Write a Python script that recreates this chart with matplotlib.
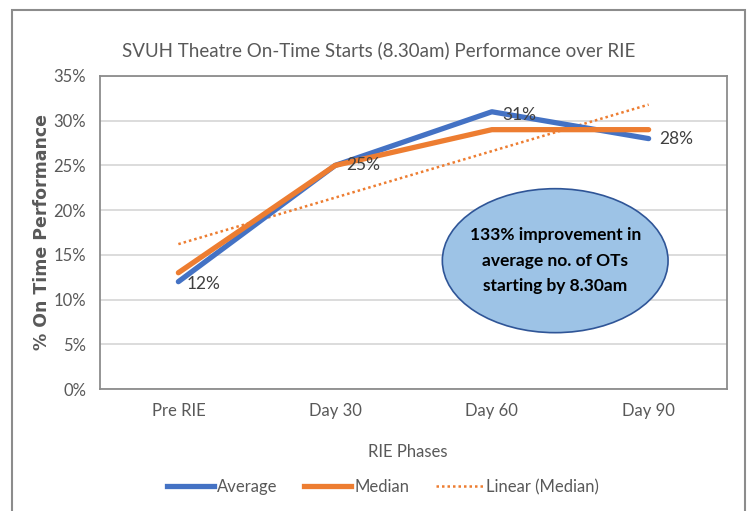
import matplotlib
matplotlib.use("Agg")
import matplotlib.pyplot as plt
import numpy as np
from matplotlib.patches import Ellipse, Rectangle
from matplotlib.lines import Line2D

categories = ["Pre RIE", "Day 30", "Day 60", "Day 90"]
average = [12, 25, 31, 28]
median = [13, 25, 29, 29]
avg_labels = ["12%", "25%", "31%", "28%"]
yticks = [0, 5, 10, 15, 20, 25, 30, 35]

NARROW = ["Lato", "DejaVu Sans"]
GRAY = "#595959"
BLUE = "#4472C4"
ORANGE = "#ED7D31"

fig = plt.figure(figsize=(7.49, 5.11), dpi=100)
fig.patches.append(Rectangle((12/749, -0.02), (745-12)/749, 1-10/511+0.02,
                             transform=fig.transFigure, fill=False,
                             edgecolor="#8c8c8c", linewidth=1.5, zorder=0))

ax = fig.add_axes([100/749, 1-389/511, 627/749, 313/511])
x = np.arange(len(categories))
ax.set_xlim(-0.5, len(categories)-0.5)
ax.set_ylim(0, 35)
ax.set_yticks(yticks)
ax.set_yticklabels([f"{v}%" for v in yticks], family=NARROW, fontsize=12, color=GRAY)
ax.set_xticks(x)
ax.set_xticklabels(categories, family=NARROW, fontsize=12, color=GRAY)
ax.tick_params(length=0, pad=10)
ax.grid(axis="y", color="#d9d9d9", linewidth=1.3)
ax.set_axisbelow(True)
for s in ax.spines.values():
    s.set_color("#8c8c8c")
    s.set_linewidth(1.3)

ax.plot(x, average, color=BLUE, linewidth=3.8, solid_capstyle="round", zorder=3)
ax.plot(x, median, color=ORANGE, linewidth=3.8, solid_capstyle="round", zorder=4)
coef = np.polyfit(x, median, 1)
ax.plot(x, np.polyval(coef, x), color=ORANGE, linewidth=1.8, linestyle=(0, (1, 1.2)), zorder=2)

offsets = [(18, -2), (20, 0), (20, -2), (20, 0)]
for xi, yi, lab, (dx, dy) in zip(x, average, avg_labels, offsets):
    ax.annotate(lab, (xi, yi), xytext=(dx, dy), textcoords="offset points",
                ha="center", va="center",
                family=NARROW, fontsize=12.5, color="#404040", zorder=6)

ell = Ellipse((0.726, 0.41), 0.36, 0.46, transform=ax.transAxes,
              facecolor="#9DC3E6", edgecolor="#2F5597", linewidth=1.2, zorder=5)
ax.add_patch(ell)
ax.text(0.726, 0.41, "133% improvement in\naverage no. of OTs\nstarting by 8.30am",
        transform=ax.transAxes, ha="center", va="center", family=NARROW,
        fontsize=12.5, fontweight="bold", color="black", linespacing=1.75, zorder=6)

fig.text(379/749, 1-50/511, "SVUH Theatre On-Time Starts (8.30am) Performance over RIE",
         ha="center", va="center", family=NARROW, fontsize=13.5, color=GRAY)
fig.text(408/749, 1-452/511, "RIE Phases", ha="center", va="center",
         family=NARROW, fontsize=12, color=GRAY)
fig.text(42/749, 1-232/511, "% On Time Performance", ha="center", va="center",
         rotation=90, family="DejaVu Sans", fontsize=12.5, fontweight="bold", color=GRAY)

handles = [Line2D([], [], color=BLUE, linewidth=3.8),
           Line2D([], [], color=ORANGE, linewidth=3.8),
           Line2D([], [], color=ORANGE, linewidth=1.8, linestyle=(0, (1, 1.2)))]
leg = fig.legend(handles, ["Average", "Median", "Linear (Median)"], loc="center",
                 bbox_to_anchor=(383/749, 1-487/511), ncol=3, frameon=False,
                 prop={"family": NARROW, "size": 12}, handlelength=2.8,
                 handletextpad=0.2, columnspacing=1.6)
for t in leg.get_texts():
    t.set_color(GRAY)

fig.savefig("out.png", dpi=100)
